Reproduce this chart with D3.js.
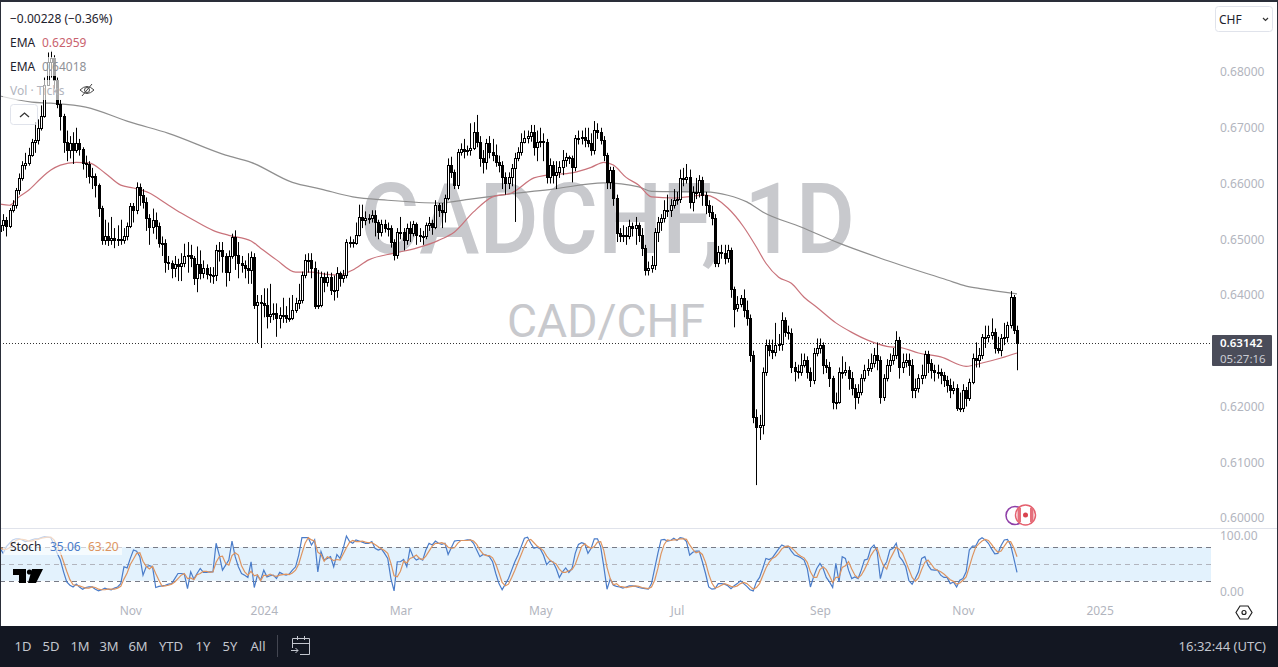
<!DOCTYPE html>
<html>
<head>
<meta charset="utf-8">
<script src="https://cdn.jsdelivr.net/npm/d3@7"></script>
<style>
  html, body { margin: 0; padding: 0; background: #fff; overflow: hidden; }
  svg { display: block; font-family: "Noto Sans", "Open Sans", sans-serif; }
</style>
</head>
<body>
<div id="chart"></div>
<script>
// CAD/CHF daily, values, prices in units of 0.0001
var opens = [6515,6525,6534,6524,6552,6561,6588,6610,6633,6637,6651,6674,6678,6699,6721,6777,6818,6825,6785,6742,
6721,6674,6660,6672,6660,6672,6662,6637,6635,6613,6613,6597,6556,6498,6506,6498,6502,6498,6500,6498,
6506,6524,6559,6552,6594,6579,6567,6538,6522,6534,6524,6493,6493,6459,6457,6448,6455,6452,6457,6470,
6472,6466,6430,6455,6439,6448,6437,6436,6436,6481,6481,6470,6441,6470,6504,6472,6457,6454,6448,6445,
6468,6382,6387,6385,6382,6362,6366,6367,6358,6364,6364,6358,6358,6373,6385,6391,6436,6463,6463,6448,
6380,6382,6432,6423,6432,6409,6409,6439,6430,6436,6495,6495,6493,6507,6540,6534,6538,6538,6543,6531,
6513,6527,6520,6520,6495,6472,6513,6513,6498,6520,6511,6527,6507,6506,6506,6525,6529,6522,6561,6552,
6549,6574,6633,6620,6597,6656,6662,6658,6660,6663,6692,6674,6646,6638,6672,6656,6651,6638,6633,6611,
6601,6611,6628,6646,6656,6674,6681,6685,6692,6665,6674,6676,6674,6611,6633,6615,6620,6629,6642,6647,
6646,6629,6681,6681,6683,6678,6672,6660,6696,6692,6678,6651,6602,6624,6574,6511,6506,6507,6506,6524,
6520,6525,6507,6484,6445,6448,6454,6513,6531,6538,6552,6552,6561,6570,6572,6610,6608,6611,6567,6585,
6585,6606,6579,6561,6549,6538,6457,6477,6475,6466,6481,6411,6376,6384,6394,6373,6358,6292,6181,6163,
6167,6262,6310,6301,6298,6310,6312,6355,6333,6332,6271,6263,6262,6274,6283,6262,6247,6296,6305,6310,
6274,6271,6251,6208,6208,6262,6262,6265,6251,6233,6217,6226,6251,6265,6269,6278,6292,6283,6217,6251,
6274,6283,6292,6319,6271,6280,6283,6274,6229,6233,6251,6256,6294,6278,6265,6262,6262,6256,6247,6238,
6229,6233,6197,6197,6229,6215,6244,6287,6283,6292,6324,6324,6328,6333,6305,6301,6323,6324,6346,6396,6337];

var highs = [6535,6545,6540,6556,6570,6592,6618,6640,6655,6664,6680,6710,6715,6740,6790,6835,6838,6830,6790,6750,
6725,6695,6685,6692,6700,6680,6665,6650,6640,6628,6618,6600,6560,6535,6530,6540,6520,6525,6535,6520,
6530,6565,6565,6602,6600,6590,6575,6545,6555,6548,6530,6505,6500,6470,6462,6470,6465,6475,6492,6495,
6490,6470,6487,6480,6462,6455,6450,6450,6490,6495,6495,6475,6480,6510,6516,6495,6470,6462,6475,6478,
6475,6400,6400,6412,6412,6420,6385,6385,6378,6395,6380,6395,6400,6395,6420,6442,6473,6475,6475,6460,
6445,6442,6440,6442,6440,6435,6450,6442,6445,6500,6505,6500,6530,6562,6562,6550,6545,6552,6552,6535,
6535,6535,6530,6525,6500,6520,6540,6520,6528,6532,6533,6530,6520,6515,6530,6540,6535,6570,6565,6565,
6580,6645,6648,6625,6662,6672,6680,6668,6708,6710,6723,6685,6660,6680,6685,6680,6670,6650,6640,6620,
6620,6635,6655,6665,6690,6695,6695,6705,6705,6695,6700,6690,6680,6645,6640,6640,6640,6660,6655,6650,
6650,6687,6695,6695,6700,6700,6690,6712,6708,6700,6685,6655,6630,6630,6580,6520,6525,6522,6535,6530,
6540,6530,6520,6490,6460,6470,6520,6540,6545,6570,6580,6572,6590,6585,6625,6628,6635,6625,6595,6610,
6615,6612,6585,6570,6560,6545,6488,6490,6490,6490,6485,6415,6398,6400,6410,6390,6365,6300,6195,6185,
6270,6320,6320,6320,6350,6330,6369,6360,6345,6340,6280,6275,6295,6295,6290,6270,6305,6322,6322,6315,
6285,6280,6255,6225,6270,6290,6280,6272,6262,6240,6240,6258,6275,6285,6295,6305,6315,6290,6258,6285,
6295,6305,6335,6325,6295,6295,6295,6285,6250,6258,6275,6300,6300,6285,6275,6275,6268,6262,6255,6250,
6245,6240,6225,6240,6235,6250,6295,6315,6305,6330,6345,6345,6358,6340,6325,6330,6350,6352,6407,6400,6345];

var lows = [6505,6515,6505,6520,6548,6555,6580,6605,6625,6632,6648,6655,6670,6695,6718,6775,6790,6770,6735,6695,
6655,6640,6645,6635,6655,6650,6625,6610,6600,6590,6575,6540,6490,6490,6488,6490,6484,6488,6490,6492,
6498,6520,6530,6545,6560,6555,6515,6490,6510,6500,6485,6470,6440,6445,6430,6432,6425,6425,6450,6440,
6450,6418,6405,6428,6430,6428,6422,6420,6425,6460,6440,6415,6425,6465,6445,6430,6440,6430,6420,6420,
6375,6314,6305,6360,6340,6350,6355,6325,6340,6350,6350,6352,6355,6368,6375,6385,6430,6440,6430,6375,
6375,6378,6405,6415,6400,6390,6395,6415,6422,6430,6485,6485,6490,6505,6520,6525,6528,6530,6505,6500,
6505,6512,6505,6485,6462,6465,6500,6480,6490,6495,6505,6490,6495,6490,6500,6515,6508,6518,6540,6520,
6530,6570,6610,6590,6590,6650,6645,6650,6650,6660,6665,6630,6618,6625,6645,6640,6630,6620,6590,6580,
6590,6595,6531,6640,6650,6672,6672,6675,6650,6640,6665,6640,6600,6600,6600,6590,6610,6615,6630,6635,
6602,6622,6670,6670,6665,6665,6650,6652,6680,6670,6640,6590,6590,6560,6495,6495,6495,6490,6500,6505,
6490,6495,6470,6435,6435,6440,6445,6495,6515,6530,6540,6540,6555,6562,6565,6595,6600,6555,6550,6572,
6575,6560,6545,6540,6525,6450,6450,6465,6455,6458,6395,6342,6370,6378,6360,6345,6280,6170,6059,6140,
6150,6255,6290,6285,6290,6300,6300,6325,6320,6260,6245,6250,6255,6270,6250,6235,6240,6290,6295,6258,
6260,6235,6195,6195,6205,6250,6255,6230,6220,6195,6205,6220,6245,6255,6262,6270,6265,6205,6210,6245,
6262,6275,6285,6250,6260,6270,6255,6215,6215,6225,6240,6250,6260,6250,6245,6250,6240,6235,6225,6215,
6222,6192,6190,6190,6200,6210,6240,6270,6270,6285,6305,6315,6320,6295,6295,6290,6310,6315,6340,6330,6265];

var closes = [6525,6534,6524,6552,6561,6588,6610,6633,6637,6651,6674,6678,6699,6721,6777,6818,6825,6785,6742,6721,
6674,6660,6672,6660,6672,6662,6637,6635,6613,6613,6597,6556,6498,6506,6498,6502,6498,6500,6498,6506,
6524,6559,6552,6594,6579,6567,6538,6522,6534,6524,6493,6493,6459,6457,6448,6455,6452,6457,6470,6472,
6466,6430,6455,6439,6448,6437,6436,6436,6481,6481,6470,6441,6470,6504,6472,6457,6454,6448,6445,6468,
6382,6387,6385,6382,6362,6366,6367,6358,6364,6364,6358,6358,6373,6385,6391,6436,6463,6463,6448,6380,
6382,6432,6423,6432,6409,6409,6439,6430,6436,6495,6495,6493,6507,6540,6534,6538,6538,6543,6531,6513,
6527,6520,6520,6495,6472,6513,6513,6498,6520,6511,6527,6507,6506,6506,6525,6529,6522,6561,6552,6549,
6574,6633,6620,6597,6656,6662,6658,6660,6663,6692,6674,6646,6638,6672,6656,6651,6638,6633,6611,6601,
6611,6628,6646,6656,6674,6681,6685,6692,6665,6674,6676,6674,6611,6633,6615,6620,6629,6642,6647,6646,
6629,6681,6681,6683,6678,6672,6660,6696,6692,6678,6651,6602,6624,6574,6511,6506,6507,6506,6524,6520,
6525,6507,6484,6445,6448,6454,6513,6531,6538,6552,6552,6561,6570,6572,6610,6608,6611,6567,6585,6585,
6606,6579,6561,6549,6538,6457,6477,6475,6466,6481,6411,6376,6384,6394,6373,6358,6292,6181,6163,6167,
6262,6310,6301,6298,6310,6312,6355,6333,6332,6271,6263,6262,6274,6283,6262,6247,6296,6305,6310,6274,
6271,6251,6208,6208,6262,6262,6265,6251,6233,6217,6226,6251,6265,6269,6278,6292,6283,6217,6251,6274,
6283,6292,6319,6271,6280,6283,6274,6229,6233,6251,6256,6294,6278,6265,6262,6262,6256,6247,6238,6229,
6233,6197,6197,6229,6215,6244,6287,6283,6292,6324,6324,6328,6333,6305,6301,6323,6324,6346,6396,6337,6314];

// moving averages, read at these bars
var fastBars = [0,3,6,9,13,16,19,24,28,33,38,42,47,52,57,61,67,72,79,82,87,93,98,103,107,111,116,124,131,138,143,149,155,161,168,172,180,186,190,193,197,201,205,212,222,229,234,238,241,245,249,253,257,263,268,273,279,284,289,296,304,309,315,320];
var fastEma = [6563,6561,6576,6588,6610,6624,6633,6638,6637,6619,6597,6592,6583,6565,6547,6534,6516,6507,6497,6484,6463,6441,6441,6437,6436,6445,6463,6475,6484,6498,6513,6549,6576,6583,6610,6615,6619,6629,6638,6633,6611,6597,6576,6574,6579,6556,6522,6486,6457,6432,6421,6396,6378,6350,6333,6319,6308,6305,6296,6289,6272,6278,6287,6296];
var slowBars = [0,10,16,27,41,53,71,79,92,101,111,122,138,148,160,174,190,201,205,222,229,235,240,252,264,277,298,304,309,320];
var slowEma = [6757,6746,6744,6737,6710,6690,6651,6638,6602,6590,6576,6570,6565,6572,6581,6590,6601,6594,6586,6585,6579,6567,6549,6522,6493,6466,6427,6416,6411,6402];

var stochK = [78,69,81,87,93,95,95,93,90,91,93,95,95,97,99,98,97,84,69,57,36,18,12,9,14,9,5,8,9,9,5,2,4,7,5,4,7,9,15,45,
43,60,75,73,63,30,45,47,45,8,10,11,12,14,15,24,33,33,32,6,36,23,33,42,35,35,36,36,87,66,39,48,57,91,63,45,33,30,26,54,
8,30,21,39,27,29,30,24,35,32,30,32,39,45,66,97,97,97,84,93,36,72,57,60,63,45,67,60,78,100,90,87,93,91,89,87,87,90,78,75,
77,69,60,24,2,54,54,58,45,77,63,57,60,57,75,87,84,91,87,85,87,67,79,91,92,92,92,93,93,87,75,63,67,66,63,54,33,15,4,14,
24,39,54,66,81,96,98,87,78,80,77,66,49,55,54,42,26,36,43,35,42,69,85,88,86,69,78,95,95,81,45,5,23,12,10,9,7,9,11,11,
10,8,7,6,5,15,42,69,93,94,91,92,96,92,97,96,90,66,71,73,73,54,33,9,5,6,15,15,14,11,6,11,15,20,15,10,4,2,18,26,
42,60,58,61,69,77,84,81,82,73,66,64,61,57,42,9,27,42,51,42,26,18,8,51,18,63,60,39,24,27,24,39,57,59,78,84,72,24,45,54,
75,78,87,63,56,45,20,14,24,36,60,63,48,40,39,39,30,26,26,15,18,9,21,24,36,75,82,82,93,97,93,87,77,68,69,83,93,94,84,60,35];

var stochD = [80,76,76,79,87,92,94,94,93,91,91,93,94,96,97,98,98,93,83,70,54,37,22,13,12,11,9,7,7,9,8,5,4,4,5,5,5,7,10,23,
34,49,59,69,70,55,46,41,46,33,21,10,11,12,14,18,24,30,33,24,25,22,31,33,37,37,35,36,53,63,64,51,48,65,70,66,47,36,30,37,
29,31,20,30,29,32,29,28,30,31,32,31,34,39,50,69,87,97,93,91,71,67,55,63,60,56,58,57,68,79,89,92,90,90,91,89,88,88,85,81,
77,74,69,51,29,27,37,55,52,60,62,66,60,58,64,73,82,87,87,88,86,80,78,79,87,92,92,92,93,91,85,75,68,65,65,61,50,34,17,11,
14,26,39,53,67,81,92,94,88,82,78,74,64,57,53,50,41,35,35,38,40,49,65,81,86,81,78,81,89,90,74,44,24,13,15,10,9,8,9,10,
11,10,8,7,6,9,21,42,68,85,93,92,93,93,95,95,94,84,76,70,72,67,53,32,16,7,9,12,15,13,10,9,11,15,17,15,10,5,8,15,
29,43,53,60,63,69,77,81,82,79,74,68,64,61,53,36,26,26,40,45,40,29,17,26,26,44,47,54,41,30,25,30,40,52,65,74,78,60,47,41,
58,69,80,76,69,55,40,26,19,25,40,53,57,50,42,39,36,32,27,22,19,14,16,21,27,45,64,80,86,91,94,92,85,77,71,73,82,90,90,79,63];

// 0.63000 sits under the last price label in the picture, so it is left out
var priceTicks = [6000,6100,6200,6400,6500,6600,6700,6800];
var stochTicks = [0,100];
var stochLevels = [20,50,80];
var timeTickBars = [41,83,126,170,213,258,303,346];
var timeTickLabels = ["Nov","2024","Mar","May","Jul","Sep","Nov","2025"];
var rangeButtons = ["1D","5D","1M","3M","6M","YTD","1Y","5Y","All"];
var lastPrice = 6314.2;

var width = 1278, height = 667;
var plotRight = 1212;

var svg = d3.select("#chart").append("svg")
    .attr("width", width)
    .attr("height", height);

var x = d3.scaleLinear().domain([0, closes.length - 1]).range([0, 1017]);
var y = d3.scaleLinear().domain([6000, 6800]).range([518, 72]);
var yStoch = d3.scaleLinear().domain([0, 100]).range([592, 536]);

svg.append("defs").append("clipPath").attr("id", "main_clip")
    .append("rect").attr("x", 0).attr("y", 3).attr("width", plotRight).attr("height", 524);

svg.append("rect").attr("width", width).attr("height", height).attr("fill", "#fff");

// Watermark
svg.append("text")
    .attr("x", 360).attr("y", 253)
    .attr("textLength", 495).attr("lengthAdjust", "spacingAndGlyphs")
    .style("font-family", "Roboto, sans-serif")
    .style("font-size", "98px")
    .style("font-weight", "500")
    .attr("fill", "#c8c9cd")
    .text("CADCHF, 1D");
svg.append("text")
    .attr("x", 507).attr("y", 337)
    .attr("textLength", 198).attr("lengthAdjust", "spacingAndGlyphs")
    .style("font-family", "Roboto, sans-serif")
    .style("font-size", "47px")
    .attr("fill", "#c8c9cd")
    .text("CAD/CHF");

// Last price line
svg.append("line")
    .attr("x1", 0).attr("x2", plotRight)
    .attr("y1", Math.round(y(lastPrice)) + 0.5).attr("y2", Math.round(y(lastPrice)) + 0.5)
    .attr("stroke", "#333")
    .attr("stroke-dasharray", "1,2");

var bars = d3.range(closes.length);
var main = svg.append("g").attr("clip-path", "url(#main_clip)");

// Moving averages
var line_from = function (barList, valueList) {
    return d3.line()
        .x(function (d, i) { return x(barList[i]); })
        .y(function (d) { return y(d); })
        .curve(d3.curveMonotoneX)(valueList);
};
main.append("path").attr("d", line_from(slowBars, slowEma))
    .attr("fill", "none").attr("stroke", "#8f8f8f").attr("stroke-width", 1.2);
main.append("path").attr("d", line_from(fastBars, fastEma))
    .attr("fill", "none").attr("stroke", "#c9737b").attr("stroke-width", 1.2);

// Candles
main.selectAll("line.wick")
    .data(bars)
    .join("line")
    .attr("class", "wick")
    .attr("x1", function (i) { return Math.round(x(i)) + 0.5; })
    .attr("x2", function (i) { return Math.round(x(i)) + 0.5; })
    .attr("y1", function (i) { return y(highs[i]); })
    .attr("y2", function (i) { return y(lows[i]); })
    .attr("stroke", "#000");

main.selectAll("rect.body")
    .data(bars)
    .join("rect")
    .attr("class", "body")
    .attr("x", function (i) { return Math.round(x(i)) - 0.5; })
    .attr("y", function (i) { return Math.round(y(Math.max(opens[i], closes[i]))) + 0.5; })
    .attr("width", 2)
    .attr("height", function (i) { return Math.max(1, Math.round(Math.abs(y(opens[i]) - y(closes[i])))); })
    .attr("fill", function (i) { return closes[i] >= opens[i] ? "#fff" : "#000"; })
    .attr("stroke", "#000");

// Price axis
var priceAxis = d3.axisRight(y)
    .tickValues(priceTicks)
    .tickSize(0)
    .tickPadding(0)
    .tickFormat(function (d) { return (d / 10000).toFixed(5); });
var priceG = svg.append("g").attr("transform", "translate(1220,0)").call(priceAxis);
priceG.select(".domain").remove();
priceG.selectAll("text").attr("fill", "#b2b5be").style("font-size", "12px").style("font-family", "\"Noto Sans\", sans-serif");

// Pane separator
svg.append("line").attr("x1", 0).attr("x2", width).attr("y1", 528.5).attr("y2", 528.5).attr("stroke", "#e0e3eb");

// Stochastic pane
svg.append("rect")
    .attr("x", 0).attr("width", 1211)
    .attr("y", yStoch(stochLevels[2])).attr("height", yStoch(stochLevels[0]) - yStoch(stochLevels[2]))
    .attr("fill", "#e3f2fd");
svg.selectAll("line.level")
    .data(stochLevels)
    .join("line")
    .attr("class", "level")
    .attr("x1", 0).attr("x2", 1211)
    .attr("y1", function (d) { return Math.round(yStoch(d)) + 0.5; })
    .attr("y2", function (d) { return Math.round(yStoch(d)) + 0.5; })
    .attr("stroke", function (d) { return d == 50 ? "#b2b5be" : "#787b86"; })
    .attr("stroke-dasharray", "5,4");

var stoch_line = d3.line()
    .x(function (d, i) { return x(i); })
    .y(function (d) { return yStoch(d); });
svg.append("path").attr("d", stoch_line(stochK))
    .attr("fill", "none").attr("stroke", "#4a7cc9").attr("stroke-width", 1.2);
svg.append("path").attr("d", stoch_line(stochD))
    .attr("fill", "none").attr("stroke", "#dd9460").attr("stroke-width", 1.2);

var stochAxis = d3.axisRight(yStoch)
    .tickValues(stochTicks)
    .tickSize(0)
    .tickPadding(0)
    .tickFormat(d3.format(".2f"));
var stochG = svg.append("g").attr("transform", "translate(1220,0)").call(stochAxis);
stochG.select(".domain").remove();
stochG.selectAll("text").attr("fill", "#b2b5be").style("font-size", "12px").style("font-family", "\"Noto Sans\", sans-serif");

// Time axis
var timeAxis = d3.axisBottom(x)
    .tickValues(timeTickBars)
    .tickSize(0)
    .tickPadding(0)
    .tickFormat(function (d, i) { return timeTickLabels[i]; });
var timeG = svg.append("g").attr("transform", "translate(0,604)").call(timeAxis);
timeG.select(".domain").remove();
timeG.selectAll("text").attr("fill", "#b2b5be").style("font-size", "12px").style("font-family", "\"Noto Sans\", sans-serif").attr("dy", "0.9em");

// Legend backgrounds let the marks show through faintly
var legendRows = [[3, 34, 90, 18], [3, 57, 90, 19], [3, 80, 98, 20], [3, 536, 119, 19]];
svg.selectAll("rect.legend_bg")
    .data(legendRows)
    .join("rect")
    .attr("class", "legend_bg")
    .attr("x", function (d) { return d[0]; })
    .attr("y", function (d) { return d[1]; })
    .attr("width", function (d) { return d[2]; })
    .attr("height", function (d) { return d[3]; })
    .attr("fill", "#fff")
    .attr("opacity", 0.65);

function add_text(text, tx, ty, size, color, anchor) {
    return svg.append("text")
        .attr("x", tx).attr("y", ty)
        .attr("text-anchor", anchor || "start")
        .attr("dominant-baseline", "central")
        .style("font-size", size + "px")
        .attr("fill", color)
        .text(text);
}

add_text("\u22120.00228 (\u22120.36%)", 10, 18, 12, "#1e222d");
add_text("EMA", 10, 42, 12, "#1e222d");
add_text("0.62959", 42, 42, 12, "#c9626e");
add_text("EMA", 10, 66, 12, "#1e222d");
add_text("0.64018", 42, 66, 12, "#8f9197");
add_text("Vol \u00b7 Ticks", 10, 90, 12, "#b2b5be");
add_text("Stoch", 10, 546, 12, "#1e222d");
add_text("35.06", 50, 546, 12, "#4a7cc9");
add_text("63.20", 88, 546, 12, "#dd9460");

// Eye icon next to the volume row
var eye = svg.append("g").attr("transform", "translate(87,90)")
    .attr("fill", "none").attr("stroke", "#444").attr("stroke-width", 1);
eye.append("path").attr("d", "M-7,0 Q0,-7 7,0 Q0,7 -7,0Z");
eye.append("circle").attr("r", 2.5);
eye.append("line").attr("x1", -5).attr("y1", 6).attr("x2", 5).attr("y2", -6);

// Collapse button
svg.append("rect").attr("x", 10.5).attr("y", 104.5).attr("width", 27).attr("height", 20).attr("rx", 3)
    .attr("fill", "#fff").attr("fill-opacity", 0.7).attr("stroke", "#e0e3eb");
svg.append("path").attr("d", "M20,117 L24.5,113 L29,117")
    .attr("fill", "none").attr("stroke", "#333").attr("stroke-width", 1.3);

// Currency selector
svg.append("rect").attr("x", 1215.5).attr("y", 6.5).attr("width", 57).attr("height", 25).attr("rx", 3)
    .attr("fill", "#fff").attr("stroke", "#e0e3eb");
add_text("CHF", 1219, 19, 12, "#1e222d");
svg.append("path").attr("d", "M1263,18 L1265.5,20.5 L1268,18")
    .attr("fill", "none").attr("stroke", "#333").attr("stroke-width", 1.2);

// Last price label
svg.append("rect").attr("x", 1212).attr("y", 335).attr("width", 60).attr("height", 31).attr("rx", 1).attr("fill", "#4a4c59");
add_text("0.63142", 1220, 342.5, 11.5, "#fff").style("font-weight", "600");
add_text("05:27:16", 1220, 358.5, 11.5, "#c9cbd3");

// Event markers
svg.append("circle").attr("cx", 1015).attr("cy", 515.5).attr("r", 9)
    .attr("fill", "#fff").attr("stroke", "#8e3fa8").attr("stroke-width", 1.5);
svg.append("circle").attr("cx", 1025.5).attr("cy", 515).attr("r", 10)
    .attr("fill", "#fff").attr("stroke", "#e5606e").attr("stroke-width", 1.5);
svg.append("rect").attr("x", 1017.5).attr("y", 508).attr("width", 3.5).attr("height", 14).attr("fill", "#e5707c");
svg.append("rect").attr("x", 1030).attr("y", 508).attr("width", 3.5).attr("height", 14).attr("fill", "#e5707c");
svg.append("circle").attr("cx", 1025.5).attr("cy", 515).attr("r", 2.5).attr("fill", "#d9434f");

// TradingView logo
svg.append("path")
    .attr("d", "M13,569 H26 V583 H19 V575 H13Z M32,569 H43 L36,583 H28Z")
    .attr("fill", "#000");
svg.append("circle").attr("cx", 29.5).attr("cy", 572).attr("r", 2.6).attr("fill", "#000");

// Settings icon
svg.append("path")
    .attr("d", "M1240,606 H1248 L1252,612.5 L1248,619 H1240 L1236,612.5Z")
    .attr("fill", "#fff").attr("stroke", "#222").attr("stroke-width", 1.2);
svg.append("circle").attr("cx", 1244).attr("cy", 612.5).attr("r", 2)
    .attr("fill", "none").attr("stroke", "#222").attr("stroke-width", 1.2);

// Frame and bottom toolbar
svg.append("rect").attr("x", 0).attr("y", 0).attr("width", width).attr("height", 2).attr("fill", "#2a2e39");
svg.append("rect").attr("x", 0).attr("y", 0).attr("width", 1).attr("height", 627).attr("fill", "#2a2e39");
svg.append("rect").attr("x", 1277).attr("y", 0).attr("width", 1).attr("height", 627).attr("fill", "#2a2e39");
svg.append("rect").attr("x", 0).attr("y", 626).attr("width", width).attr("height", 41).attr("fill", "#131722");

svg.selectAll("text.range")
    .data(rangeButtons)
    .join("text")
    .attr("class", "range")
    .attr("x", function (d, i) { return [23, 51, 80, 109, 138, 171, 203, 230, 258][i]; })
    .attr("y", 646)
    .attr("text-anchor", "middle")
    .attr("dominant-baseline", "central")
    .style("font-size", "13px")
    .attr("fill", "#c3c6ce")
    .text(function (d) { return d; });

svg.append("line").attr("x1", 277.5).attr("x2", 277.5).attr("y1", 635).attr("y2", 657).attr("stroke", "#434651");
var cal = svg.append("g").attr("fill", "none").attr("stroke", "#c3c6ce").attr("stroke-width", 1);
cal.append("path").attr("d", "M292.5,648 V638.5 H309.5 V654.5 H300");
cal.append("path").attr("d", "M292.5,643.5 H309.5 M297.5,636 V640 M304.5,636 V640");
cal.append("path").attr("d", "M291,650.5 H298 M295.5,648 L298,650.5 L295.5,653");

add_text("16:32:44 (UTC)", 1266, 646, 13, "#c3c6ce", "end");
</script>
</body>
</html>
